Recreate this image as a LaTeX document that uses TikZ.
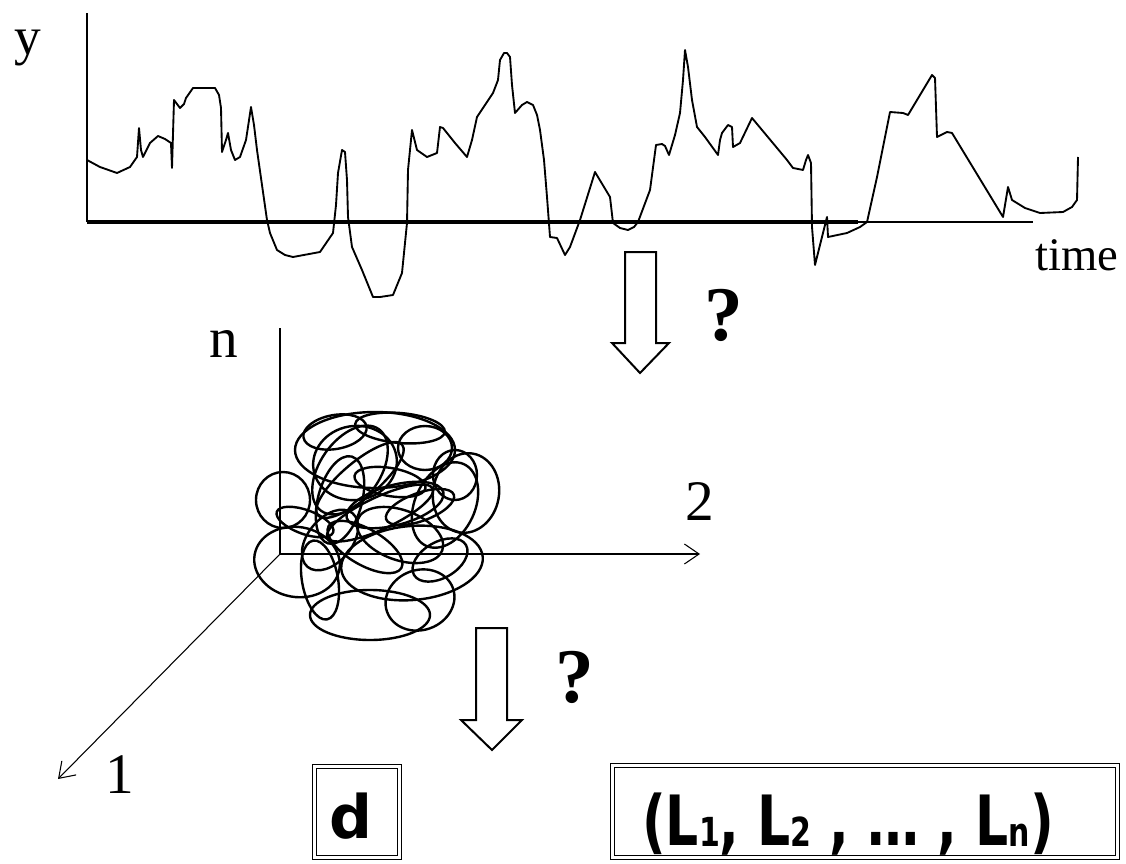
\documentclass[tikz,border=0pt]{standalone}
\usepackage{fontspec}
\setmainfont{Liberation Serif}
\newfontfamily\boxfont{DejaVu Sans}
\newfontfamily\narrowbox{DejaVu Sans}[FakeStretch=0.75]
\usetikzlibrary{arrows.meta}

\begin{document}
\begin{tikzpicture}[x=0.75pt, y=-0.75pt, >={Straight Barb[length=11pt,width=15pt]},
    axislabel/.style={font=\fontsize{43}{43}\selectfont, inner sep=0pt, anchor=base},
    quest/.style={font=\bfseries\fontsize{58}{58}\selectfont, inner sep=0pt, anchor=base},
    blockarrow/.style={draw, line width=1.5pt, line join=miter, fill=white},
    dblbox/.style={draw, double, line width=1.1pt, double distance=1.6pt, inner sep=0pt},
    signal/.style={line width=1.4pt, line join=round},
    tangle/.style={line width=1.8pt}]
    \useasboundingbox (0,0) rectangle (1126,863);

    % Time series axes
    \coordinate (t0) at (87,222);
    \coordinate (ytop) at (87,13);
    \coordinate (tmid) at (858,222);
    \coordinate (tend) at (1033,222);
    \draw[line width=0.8pt] (t0) -- (ytop);
    \draw[line width=3pt] (t0) -- (tmid);
    \draw[line width=1.2pt] (tmid) -- (tend);
    \node[axislabel, font=\fontsize{40}{40}\selectfont] (ylab) at (28,55) {y};
    \node[axislabel, font=\fontsize{35}{35}\selectfont] (tlab) at (1077,270) {time};

    % The signal
    \draw[signal] plot coordinates {(87,160) (100,167) (117,173) (130,167) (137,157)
        (139,128) (141,150) (143,157) (150,143) (158,136) (165,139) (171,143) (172,168)
        (174,100) (180,108) (184,104) (186,98) (193,88) (215,88) (219,95) (221,108)
        (222,152) (226,140) (228,133) (231,150) (235,160) (240,157) (246,140) (251,107)
        (254,125) (257,150) (262,185) (267,220) (270,233) (277,250) (285,255) (293,257)
        (320,252) (333,233) (336,205) (338,173) (342,150) (345,152) (347,180) (348,217)
        (352,247) (362,270) (373,297) (380,297) (393,295) (402,273) (407,223) (408,170)
        (412,130) (417,150) (427,157) (437,153) (440,127) (443,128) (455,143) (467,157)
        (472,140) (477,117) (485,105) (493,93) (498,80) (500,60) (504,53) (507,53)
        (510,57) (512,85) (515,113) (522,105) (527,102) (533,105) (537,115) (540,130)
        (544,160) (547,197) (550,237) (557,238) (565,255) (570,247) (580,220) (595,172)
        (610,197) (613,223) (620,228) (628,230) (634,227) (638,222) (650,190) (656,145)
        (662,144) (665,146) (669,155) (675,135) (680,113) (683,80) (685,50) (688,67)
        (692,100) (697,127) (705,137) (718,155) (720,140) (722,133) (728,125) (732,127)
        (733,147) (740,143) (752,118) (787,160) (793,168) (803,170) (806,160) (808,155)
        (811,163) (812,227) (815,265) (827,217) (828,237) (847,233) (860,227) (867,222)
        (877,177) (890,112) (903,113) (908,115) (932,75) (935,78) (937,137) (947,132)
        (952,133) (1003,217) (1008,187) (1012,200) (1025,208) (1040,213) (1063,212)
        (1072,207) (1077,200) (1078,157)};

    % First block arrow
    \draw[blockarrow] (625,252) -- (656,252) -- (656,343) -- (669,343) -- (640,373)
        -- (612,343) -- (625,343) -- cycle;
    \node[quest] (q1) at (724,340) {?};

    % Phase space axes
    \coordinate (o) at (280,554);
    \coordinate (nend) at (280,328);
    \coordinate (twoend) at (700,554);
    \coordinate (oneend) at (58,779);
    \draw[line width=0.8pt] (o) -- (nend);
    \draw[line width=0.8pt, ->] (o) -- (twoend);
    \draw[line width=0.8pt, ->] (o) -- (oneend);
    \node[axislabel] (nlab) at (224,357) {n};
    \node[axislabel] (twolab) at (700,520) {2};
    \node[axislabel] (onelab) at (120,793) {1};

    % Tangled trajectory
    \foreach \cx/\cy/\rx/\ry/\ang in {375/450/80/38/0, 355/463/42/37/10, 425/448/27/22/0,
        466/493/33/40/-10, 283/500/27/28/0, 297/562/43/35/-10, 412/563/71/37/5,
        380/513/58/16/25, 395/505/50/20/15, 360/480/55/18/40, 340/500/22/45/-15,
        400/535/45/25/-20, 330/540/35/22/50, 370/615/60/25/0, 420/600/35/30/20,
        350/470/30/50/-35, 445/505/30/45/-25, 320/580/18/40/10,
        335/432/32/17/10, 400/428/45/15/-5, 390/482/36/14/-10, 420/507/36/14/20,
        365/547/42/18/-30, 305/522/30/12/-20, 440/560/30/18/30, 455/475/22/25/0}
        \draw[tangle, rotate around={\ang:(\cx,\cy)}] (\cx,\cy) ellipse [x radius=\rx, y radius=\ry];

    % Second block arrow
    \draw[blockarrow] (476,628) -- (507,628) -- (507,720) -- (522,720) -- (492,750)
        -- (461,720) -- (476,720) -- cycle;
    \node[quest] (q2) at (575,702) {?};

    % Result boxes
    \node[dblbox, minimum width=63.75pt, minimum height=68.25pt] (dbox) at (357,812) {};
    \node[font=\boxfont\bfseries\fontsize{45}{45}\selectfont, inner sep=0pt, anchor=base] (dlab) at (351,838) {d};
    \node[dblbox, minimum width=378.75pt, minimum height=69pt] (lbox) at (865,811.5) {};
    \node[font=\narrowbox\bfseries\fontsize{52}{52}\selectfont, inner sep=0pt, anchor=base] (lvec) at (848,845)
        {(L\raisebox{-1pt}{\fontsize{30}{30}\selectfont 1}, L\raisebox{-1pt}{\fontsize{30}{30}\selectfont 2} , … , L\raisebox{-1pt}{\fontsize{30}{30}\selectfont n})};
\end{tikzpicture}
\end{document}
